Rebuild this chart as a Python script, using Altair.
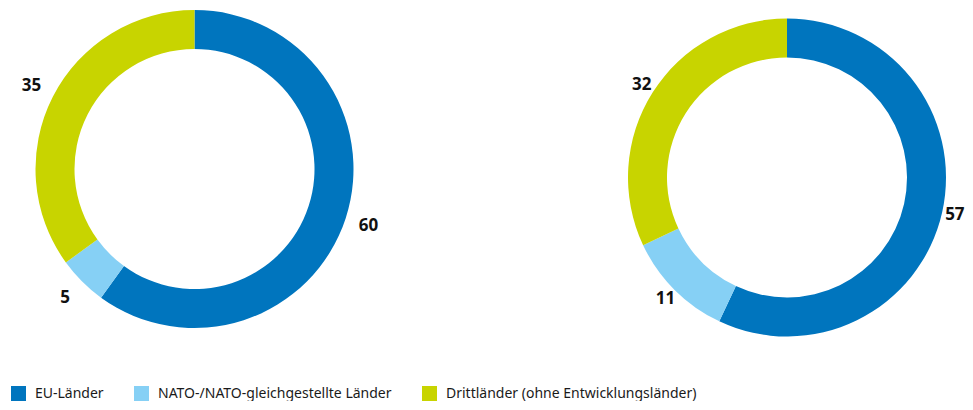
import altair as alt
import pandas as pd

categories = ["EU-Länder", "NATO-/NATO-gleichgestellte Länder", "Drittländer (ohne Entwicklungsländer)"]
colors = ["#0075BE", "#86D0F5", "#C8D400"]
left_values = [60, 5, 35]
right_values = [57, 11, 32]


def make_df(values):
    return pd.DataFrame({
        "Kategorie": categories,
        "Wert": values,
        "idx": list(range(len(categories))),
    })


def donut(values, w, h, label_radius):
    df = make_df(values)
    base = alt.Chart(df).encode(
        theta=alt.Theta("Wert:Q", stack=True),
        order=alt.Order("idx:Q"),
    )
    legend = alt.Legend(
        title=None,
        orient="none",
        legendX=3,
        legendY=378,
        direction="horizontal",
        symbolType="square",
        symbolSize=225,
        symbolStrokeWidth=0,
        symbolOpacity=1,
        labelFont="Noto Sans",
        labelFontSize=14,
        labelColor="#1a1a1a",
        labelOffset=9,
        labelLimit=0,
        columnPadding=30,
    )
    arcs = base.mark_arc(outerRadius=159, innerRadius=120, stroke=None).encode(
        color=alt.Color(
            "Kategorie:N",
            scale=alt.Scale(domain=categories, range=colors),
            sort=categories,
            legend=legend,
        )
    )
    labels = base.mark_text(
        radius=label_radius,
        font="Noto Sans",
        fontSize=17,
        fontWeight="bold",
        color="#111111",
    ).encode(text=alt.Text("Wert:Q"))
    return alt.layer(arcs, labels).properties(width=w, height=h)


left = donut(left_values, 373, 322, 183)
right = donut(right_values, 340, 339, 172)

chart = alt.hconcat(left, right, spacing=236).configure(padding=0).configure_view(stroke=None)

chart.save("out.html", embed_options={"renderer": "svg", "actions": False})
